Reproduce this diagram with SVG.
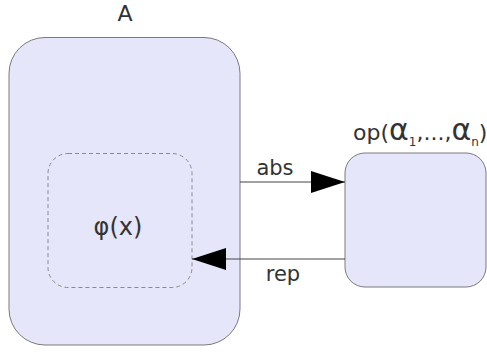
<svg xmlns="http://www.w3.org/2000/svg" width="487" height="352" viewBox="0 0 487 352">
<style>
.box{fill:#e6e6fa;stroke:#7a7a7a;stroke-width:1}
.dash{fill:none;stroke:#8a8a8a;stroke-width:1;stroke-dasharray:4,3}
.conn{stroke:#444;stroke-width:1.2;fill:none}
.t{font-family:"DejaVu Sans",sans-serif;fill:#333}
</style>
<defs>
<marker id="ah" markerWidth="34" markerHeight="24" refX="34" refY="12" orient="auto" markerUnits="userSpaceOnUse">
<path d="M0,1 L34,12 L0,23 Z" fill="#000"/>
</marker>
</defs>
<g id="nodeA">
<rect class="box" x="9" y="37.5" width="231" height="307.5" rx="36" ry="36"/>
<text class="t" x="125" y="21" font-size="22" text-anchor="middle">A</text>
</g>
<g id="nodePhi">
<rect class="dash" x="48" y="153.5" width="144" height="134" rx="20" ry="20"/>
<text class="t" x="118" y="235" font-size="24" text-anchor="middle">φ(x)</text>
</g>
<g id="nodeOp">
<rect class="box" x="345" y="153" width="141" height="134" rx="20" ry="20"/>
<text class="t" x="353" y="140" font-size="22">op(<tspan font-size="30">α</tspan><tspan font-size="12" dy="6">1</tspan><tspan dy="-6">,...,</tspan><tspan font-size="30">α</tspan><tspan font-size="12" dy="6">n</tspan><tspan dy="-6">)</tspan></text>
</g>
<g id="connectors">
<line class="conn" x1="240" y1="182" x2="345" y2="182" marker-end="url(#ah)"/>
<text class="t" x="275" y="175" font-size="21" text-anchor="middle">abs</text>
<line class="conn" x1="345" y1="259" x2="192" y2="259" marker-end="url(#ah)"/>
<text class="t" x="283" y="281" font-size="21" text-anchor="middle">rep</text>
</g>
</svg>
